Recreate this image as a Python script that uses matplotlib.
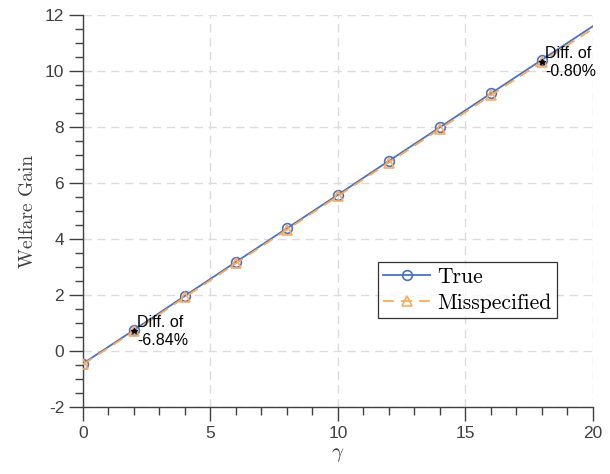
import matplotlib
matplotlib.use("Agg")
import matplotlib.pyplot as plt
from matplotlib.ticker import MultipleLocator

plt.rcParams['mathtext.fontset'] = 'cm'
plt.rcParams['axes.unicode_minus'] = False

gamma = [0, 2, 4, 6, 8, 10, 12, 14, 16, 18, 20]
true_vals = [-0.45, 0.75, 1.97, 3.18, 4.38, 5.58, 6.79, 7.99, 9.20, 10.40, 11.60]
mis_vals = [-0.48, 0.70, 1.92, 3.13, 4.33, 5.53, 6.73, 7.93, 9.13, 10.32, 11.51]
ann_gamma = [2, 18]
ann_vals = [0.70, 10.32]
ann_text = ["Diff. of\n-6.84%", "Diff. of\n-0.80%"]

blue = "#4a72c0"
orange = "#f9ab5e"
gray = "#404040"

fig = plt.figure(figsize=(6.1, 4.74), dpi=100)
ax = fig.add_axes([0.136, 0.1414, 0.836, 0.827])

ax.plot(gamma, true_vals, '-', color=blue, lw=1.3, marker='o', ms=7,
        mfc='none', mec=blue, mew=1.2, markevery=slice(0, 10), label='True', zorder=3)
ax.plot(gamma, mis_vals, '--', color=orange, lw=1.3, dashes=(6, 4), marker='^', ms=7,
        mfc='none', mec=orange, mew=1.2, markevery=slice(0, 10), label='Misspecified', zorder=3)

for g, v, t in zip(ann_gamma, ann_vals, ann_text):
    ax.plot([g], [v], marker='*', color='black', ms=4, ls='none', zorder=4)
    ax.text(g + 0.12, v, t, ha='left', va='center', fontsize=11.5,
            family='Liberation Sans', color='black', linespacing=1.25, zorder=5)

ax.set_xlim(0, 20)
ax.set_ylim(-2, 12)
ax.xaxis.set_major_locator(MultipleLocator(5))
ax.xaxis.set_minor_locator(MultipleLocator(1))
ax.yaxis.set_major_locator(MultipleLocator(2))
ax.yaxis.set_minor_locator(MultipleLocator(0.5))

ax.grid(True, which='major', color='#dcdcdc', ls=(0, (6, 4)), lw=1.0)
ax.set_axisbelow(True)

for s in ['top', 'right']:
    ax.spines[s].set_visible(False)
for s in ['left', 'bottom']:
    ax.spines[s].set_color(gray)
    ax.spines[s].set_linewidth(1.0)

ax.tick_params(which='major', direction='out', length=10, width=1.0, color=gray,
               labelcolor=gray, labelsize=12.5)
ax.tick_params(which='minor', direction='out', length=6, width=1.0, color=gray)
for lbl in ax.get_xticklabels() + ax.get_yticklabels():
    lbl.set_family('Liberation Sans')

ax.set_xlabel(r'$\gamma$', fontsize=15, color=gray, labelpad=2)
ax.set_ylabel('Welfare Gain', fontsize=14, color=gray, family='cmr10', labelpad=6)

leg = ax.legend(loc='lower left', bbox_to_anchor=(0.578, 0.227),
                frameon=True, fancybox=False, edgecolor='black',
                prop={'family': 'cmr10', 'size': 15.5}, handlelength=2.2,
                borderpad=0.25, labelspacing=0.3, handletextpad=0.3, borderaxespad=0)
leg.get_frame().set_linewidth(0.9)

fig.savefig("out.png", dpi=100)
